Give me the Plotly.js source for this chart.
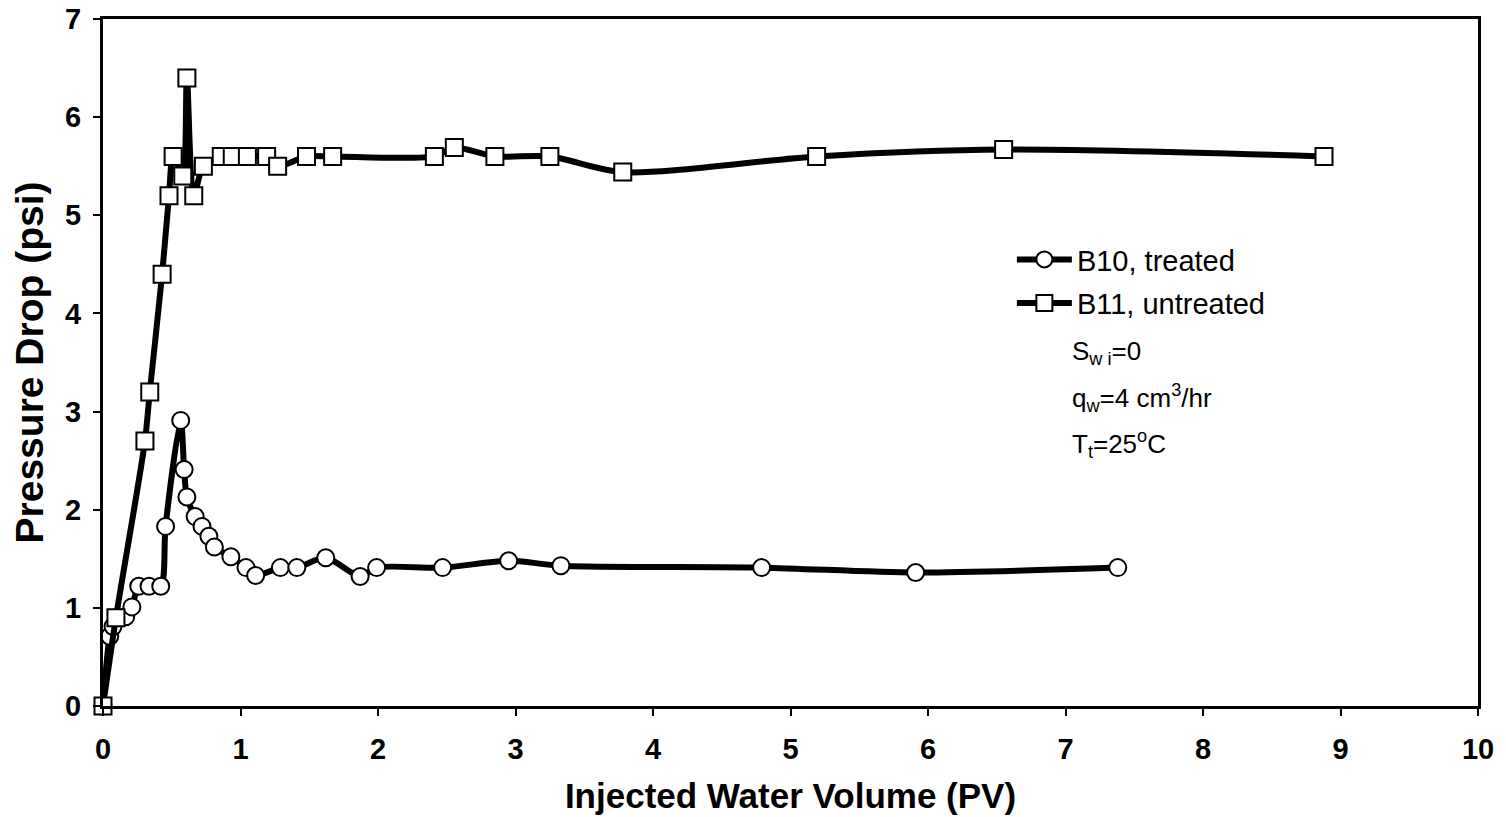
<!DOCTYPE html>
<html>
<head>
<meta charset="utf-8">
<script src="https://cdn.plot.ly/plotly-3.0.1.min.js"></script>
<style>
html,body{margin:0;padding:0;background:#fff;}
#chart{width:1506px;height:817px;}
</style>
</head>
<body>
<div id="chart"></div>
<script>
// B10, treated (circles)
const b10X = [0, 0.049, 0.073, 0.165, 0.21, 0.26, 0.335, 0.42, 0.455, 0.565, 0.59, 0.61, 0.67, 0.72, 0.77, 0.81, 0.93, 1.04, 1.11, 1.29, 1.41, 1.62, 1.87, 1.99, 2.47, 2.95, 3.33, 4.79, 5.91, 7.38];
const b10Y = [0, 0.71, 0.81, 0.91, 1.01, 1.22, 1.22, 1.22, 1.83, 2.91, 2.41, 2.13, 1.93, 1.83, 1.73, 1.62, 1.52, 1.41, 1.33, 1.41, 1.41, 1.51, 1.32, 1.41, 1.41, 1.48, 1.43, 1.41, 1.36, 1.41];
// B11, untreated (squares)
const b11X = [0, 0.094, 0.305, 0.34, 0.43, 0.48, 0.51, 0.58, 0.61, 0.66, 0.73, 0.86, 0.94, 1.05, 1.19, 1.27, 1.48, 1.67, 2.41, 2.555, 2.85, 3.25, 3.78, 5.19, 6.55, 8.88];
const b11Y = [0, 0.9, 2.7, 3.2, 4.4, 5.2, 5.6, 5.4, 6.4, 5.2, 5.5, 5.6, 5.6, 5.6, 5.6, 5.5, 5.6, 5.6, 5.6, 5.69, 5.6, 5.6, 5.44, 5.6, 5.67, 5.6];

const seriesNames = ["B10, treated", "B11, untreated"];
const xTitle = "Injected Water Volume (PV)";
const yTitle = "Pressure Drop (psi)";
const noteLines = ["S<sub>w i</sub>=0", "q<sub>w</sub>=4 cm<sup>3</sup>/hr", "T<sub>t</sub>=25<sup>o</sup>C"];

const FONT = "Liberation Sans, Arial, Helvetica, sans-serif";

const traces = [
  {
    x: b10X, y: b10Y, name: seriesNames[0], type: "scatter", mode: "lines+markers",
    line: {color: "#000", width: 6, shape: "spline", smoothing: 0.8},
    marker: {symbol: "circle", size: 17, color: "#fff", line: {color: "#000", width: 2}},
    cliponaxis: false, legendgroup: "a"
  },
  {
    x: b11X, y: b11Y, name: seriesNames[1], type: "scatter", mode: "lines+markers",
    line: {color: "#000", width: 6, shape: "spline", smoothing: 0.8},
    marker: {symbol: "square", size: 17, color: "#fff", line: {color: "#000", width: 2}},
    cliponaxis: false, legendgroup: "b"
  }
];

const noteY = [0.515, 0.448, 0.381];
const annotations = noteLines.map((t, i) => ({
  text: t, xref: "paper", yref: "paper", x: 0.703, y: noteY[i],
  xanchor: "left", yanchor: "middle", showarrow: false,
  font: {family: FONT, size: 26, color: "#000"}
}));

const layout = {
  width: 1506, height: 817,
  margin: {l: 103, r: 28, t: 19, b: 111},
  paper_bgcolor: "#fff", plot_bgcolor: "#fff",
  font: {family: FONT, color: "#000"},
  showlegend: true,
  legend: {
    x: 0.661, y: 0.687, xanchor: "left", yanchor: "top",
    bgcolor: "rgba(0,0,0,0)", borderwidth: 0,
    font: {family: FONT, size: 29, color: "#000"},
    itemwidth: 55,
    tracegroupgap: 3
  },
  xaxis: {
    range: [0, 10], dtick: 1, tick0: 0,
    showline: true, linecolor: "#000", linewidth: 3, mirror: true,
    ticks: "outside", ticklen: 7, tickwidth: 2, tickcolor: "#000",
    ticklabelstandoff: 8,
    showgrid: false, zeroline: false,
    tickfont: {family: FONT, size: 29, color: "#000", weight: "bold"},
    title: {text: xTitle, font: {family: FONT, size: 35, color: "#000", weight: "bold"}, standoff: 20}
  },
  yaxis: {
    range: [0, 7], dtick: 1, tick0: 0,
    showline: true, linecolor: "#000", linewidth: 3, mirror: true,
    ticks: "outside", ticklen: 7, tickwidth: 2, tickcolor: "#000",
    ticklabelstandoff: 6,
    showgrid: false, zeroline: false,
    tickfont: {family: FONT, size: 29, color: "#000", weight: "bold"},
    title: {text: yTitle, font: {family: FONT, size: 39, color: "#000", weight: "bold"}, standoff: 10}
  },
  annotations: annotations
};

Plotly.newPlot("chart", traces, layout, {displayModeBar: false, staticPlot: true});
</script>
</body>
</html>
